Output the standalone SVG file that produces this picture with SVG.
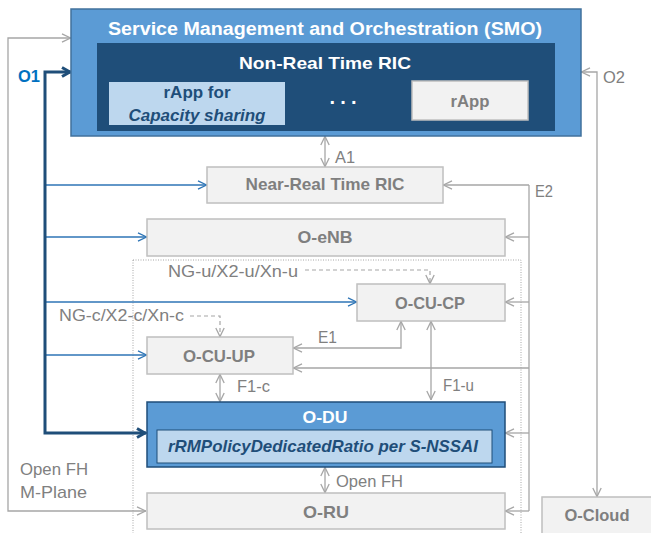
<svg xmlns="http://www.w3.org/2000/svg" width="651" height="533" viewBox="0 0 651 533">
<style>
text{font-family:"Liberation Sans",Arial,sans-serif;}
.box{fill:#F2F2F2;stroke:#BFBFBF;stroke-width:1.5;}
.nt{font-weight:bold;fill:#7F7F7F;font-size:17px;text-anchor:middle;}
.lb{fill:#808080;font-size:17px;}
.gl{fill:none;stroke:#A6A6A6;stroke-width:1.3;}
.dl{fill:none;stroke:#A6A6A6;stroke-width:1.2;stroke-dasharray:4,3;}
.bl{fill:none;stroke:#2E75B6;stroke-width:1.3;}
.ol{fill:none;stroke:#1F4E79;stroke-width:3;}
</style>
<defs>
<marker id="ag" viewBox="0 0 10 10" refX="10" refY="5" markerWidth="10" markerHeight="10" markerUnits="userSpaceOnUse" orient="auto-start-reverse"><path d="M1,0.8 L9.6,5 L1,9.2" fill="none" stroke="#A6A6A6" stroke-width="1.3"/></marker>
<marker id="ab" viewBox="0 0 10 10" refX="10" refY="5" markerWidth="10" markerHeight="10" markerUnits="userSpaceOnUse" orient="auto-start-reverse"><path d="M1,0.8 L9.6,5 L1,9.2" fill="none" stroke="#2E75B6" stroke-width="1.3"/></marker>
<marker id="ad" viewBox="0 0 12 12" refX="11" refY="6" markerWidth="12" markerHeight="12" markerUnits="userSpaceOnUse" orient="auto-start-reverse"><path d="M2,1.5 L10,6 L2,10.5" fill="none" stroke="#1F4E79" stroke-width="3"/></marker>
</defs>
<rect width="651" height="533" fill="#FFFFFF"/>

<rect id="domain" x="133" y="260" width="388" height="280" fill="none" stroke="#A6A6A6" stroke-width="1" stroke-dasharray="1,1.5"/>

<g id="connectors">
<path class="gl" d="M71,38 H8 V511 H146" marker-start="url(#ag)" marker-end="url(#ag)"/>
<path class="gl" d="M581,72 H597 V497" marker-start="url(#ag)" marker-end="url(#ag)"/>
<path class="gl" d="M325,136 V167" marker-start="url(#ag)" marker-end="url(#ag)"/>
<path class="gl" d="M529,185 V511"/>
<path class="gl" d="M529,185 H443" marker-end="url(#ag)"/>
<path class="gl" d="M529,237 H505" marker-end="url(#ag)"/>
<path class="gl" d="M529,302 H505" marker-end="url(#ag)"/>
<path class="gl" d="M529,368 H293" marker-end="url(#ag)"/>
<path class="gl" d="M529,433 H505" marker-end="url(#ag)"/>
<path class="gl" d="M529,511 H505" marker-end="url(#ag)"/>
<path class="gl" d="M293,348 H401 V321" marker-start="url(#ag)" marker-end="url(#ag)"/>
<path class="gl" d="M220,374 V402" marker-start="url(#ag)" marker-end="url(#ag)"/>
<path class="gl" d="M431,321 V400" marker-start="url(#ag)" marker-end="url(#ag)"/>
<path class="gl" d="M325,467 V493" marker-start="url(#ag)" marker-end="url(#ag)"/>
<path class="dl" d="M305,270 H430 V284" marker-end="url(#ag)"/>
<path class="dl" d="M190,316 H220 V337" marker-end="url(#ag)"/>
<path class="bl" d="M45,185 H207" marker-end="url(#ab)"/>
<path class="bl" d="M45,237 H147" marker-end="url(#ab)"/>
<path class="bl" d="M45,302 H357" marker-end="url(#ab)"/>
<path class="bl" d="M45,355 H147" marker-end="url(#ab)"/>
<path class="ol" d="M71,72 H45 V433 H146" marker-start="url(#ad)" marker-end="url(#ad)"/>
<text x="18" y="82" font-size="16" font-weight="bold" fill="#0070C0" textLength="22" lengthAdjust="spacingAndGlyphs">O1</text>
<text class="lb" x="603" y="83" textLength="22" lengthAdjust="spacingAndGlyphs">O2</text>
<text class="lb" x="335" y="163" textLength="20" lengthAdjust="spacingAndGlyphs">A1</text>
<text class="lb" x="535" y="197" textLength="18" lengthAdjust="spacingAndGlyphs">E2</text>
<text class="lb" x="168" y="277" textLength="130" lengthAdjust="spacingAndGlyphs">NG-u/X2-u/Xn-u</text>
<text class="lb" x="59" y="321" textLength="125" lengthAdjust="spacingAndGlyphs">NG-c/X2-c/Xn-c</text>
<text class="lb" x="318" y="343" textLength="19" lengthAdjust="spacingAndGlyphs">E1</text>
<text class="lb" x="237" y="392" textLength="33" lengthAdjust="spacingAndGlyphs">F1-c</text>
<text class="lb" x="443" y="391" textLength="31" lengthAdjust="spacingAndGlyphs">F1-u</text>
<text class="lb" x="336" y="487" textLength="67" lengthAdjust="spacingAndGlyphs">Open FH</text>
<text class="lb" x="20" y="475" textLength="68" lengthAdjust="spacingAndGlyphs">Open FH</text>
<text class="lb" x="20" y="498" textLength="67" lengthAdjust="spacingAndGlyphs">M-Plane</text>
</g>

<g id="smo">
<rect x="71" y="9" width="510" height="127" fill="#5B9BD5" stroke="#41719C" stroke-width="1.5"/>
<text x="325" y="35" font-size="18" font-weight="bold" fill="#FFFFFF" text-anchor="middle" textLength="434" lengthAdjust="spacingAndGlyphs">Service Management and Orchestration (SMO)</text>
</g>
<g id="nonrt-ric">
<rect x="97" y="43" width="458" height="88" fill="#1F4E79"/>
<text x="325" y="69" font-size="17" font-weight="bold" fill="#FFFFFF" text-anchor="middle" textLength="172" lengthAdjust="spacingAndGlyphs">Non-Real Time RIC</text>
<text x="343" y="104" font-size="20" font-weight="bold" fill="#FFFFFF" text-anchor="middle" textLength="27" lengthAdjust="spacing">...</text>
</g>
<g id="rapp-cap">
<rect x="109" y="82" width="176" height="43" fill="#BDD7EE"/>
<text x="197" y="98" font-size="16" font-weight="bold" fill="#1F4E79" text-anchor="middle" textLength="67" lengthAdjust="spacingAndGlyphs">rApp for</text>
<text x="197" y="121" font-size="16" font-weight="bold" font-style="italic" fill="#1F4E79" text-anchor="middle" textLength="137" lengthAdjust="spacingAndGlyphs">Capacity sharing</text>
</g>
<g id="rapp">
<rect x="412" y="81" width="116" height="39" fill="#F2F2F2" stroke="#BFBFBF" stroke-width="1.5"/>
<text class="nt" x="470" y="107" textLength="39" lengthAdjust="spacingAndGlyphs">rApp</text>
</g>
<g id="nearrt-ric">
<rect class="box" x="207" y="167" width="236" height="36"/>
<text class="nt" x="325" y="190" textLength="159" lengthAdjust="spacingAndGlyphs">Near-Real Time RIC</text>
</g>
<g id="o-enb">
<rect class="box" x="147" y="219" width="358" height="37"/>
<text class="nt" x="325" y="243" textLength="55" lengthAdjust="spacingAndGlyphs">O-eNB</text>
</g>
<g id="o-cu-cp">
<rect class="box" x="357" y="284" width="148" height="37"/>
<text class="nt" x="430" y="309" textLength="70" lengthAdjust="spacingAndGlyphs">O-CU-CP</text>
</g>
<g id="o-cu-up">
<rect class="box" x="147" y="337" width="146" height="37"/>
<text class="nt" x="219" y="362" textLength="72" lengthAdjust="spacingAndGlyphs">O-CU-UP</text>
</g>
<g id="o-du">
<rect x="147" y="402" width="358" height="65" fill="#5B9BD5" stroke="#1F4E79" stroke-width="1.5"/>
<text x="325" y="423" font-size="17" font-weight="bold" fill="#FFFFFF" text-anchor="middle" textLength="45" lengthAdjust="spacingAndGlyphs">O-DU</text>
<rect x="157" y="430" width="335" height="33" fill="#BDD7EE" stroke="#1F4E79" stroke-width="1"/>
<text x="323" y="452" font-size="17" font-weight="bold" font-style="italic" fill="#1F4E79" text-anchor="middle" textLength="310" lengthAdjust="spacingAndGlyphs">rRMPolicyDedicatedRatio per S-NSSAI</text>
</g>
<g id="o-ru">
<rect class="box" x="147" y="493" width="358" height="36"/>
<text class="nt" x="326" y="518" textLength="46" lengthAdjust="spacingAndGlyphs">O-RU</text>
</g>
<g id="o-cloud">
<rect class="box" x="542" y="497" width="112" height="40"/>
<text class="nt" x="597" y="521" textLength="65" lengthAdjust="spacingAndGlyphs">O-Cloud</text>
</g>
</svg>
